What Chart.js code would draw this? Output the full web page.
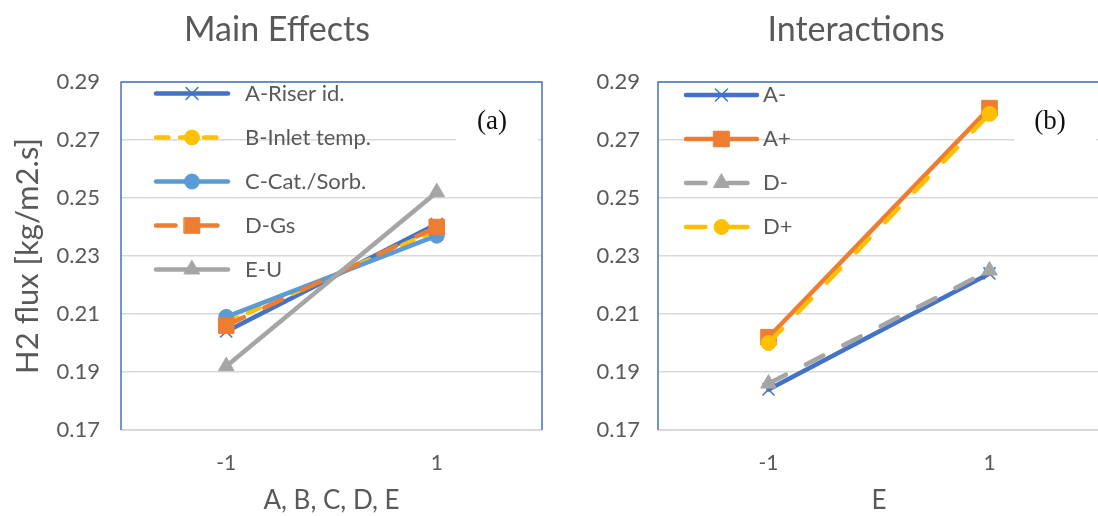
<!DOCTYPE html>
<html>
<head>
<meta charset="utf-8">
<title>H2 flux - main effects and interactions</title>
<script src="https://cdn.jsdelivr.net/npm/chart.js@4.4.1/dist/chart.umd.min.js"></script>
<style>
  body { margin: 0; background: #fff; }
  #page { position: relative; width: 1098px; height: 516px; overflow: hidden; }
  canvas { position: absolute; top: 0; }
  #mainEffects { left: 0; }
  #interactions { left: 560px; }
</style>
</head>
<body>
<div id="page">
  <canvas id="mainEffects" width="554" height="516"></canvas>
  <canvas id="interactions" width="592" height="516"></canvas>
</div>
<script>
const levels = ["-1", "1"];
const yTicks = [0.17, 0.19, 0.21, 0.23, 0.25, 0.27, 0.29];

// main effects: response at low / high level of each factor
const riserId = [0.204, 0.241];
const inletTemp = [0.207, 0.239];
const catSorb = [0.209, 0.237];
const gs = [0.206, 0.240];
const gasU = [0.192, 0.252];

// interactions, plotted against E
const aLow = [0.184, 0.224];
const aHigh = [0.202, 0.281];
const dLow = [0.186, 0.225];
const dHigh = [0.200, 0.279];

const BLUE = "#4472c4", ORANGE = "#ed7d31", GRAY = "#a5a5a5", GOLD = "#ffc000", LBLUE = "#5b9bd5";
const TEXT = "#595959";
const GRID = "#d9d9d9";
const FONT = "Lato, Carlito, Calibri, sans-serif";

const shortDash = [12.5, 11.5];
const longDash = [19.5, 22.5];

function series(label, data, color, style, radius, dash, order) {
  return {
    label, data, order,
    borderColor: color,
    backgroundColor: color,
    borderWidth: 4.5,
    borderDash: dash || [],
    borderCapStyle: "round",
    borderJoinStyle: "round",
    pointStyle: style,
    pointRadius: radius,
    pointHoverRadius: radius,
    pointBackgroundColor: color,
    pointBorderColor: color,
    pointBorderWidth: style === "crossRot" ? 1.5 : 1,
    tension: 0
  };
}

// plot outline (blue frame, grey base line) and the panel letter on a white patch
const plotFrame = {
  id: "plotFrame",
  beforeDatasetsDraw(chart, args, opts) {
    const { ctx, chartArea: a } = chart;
    ctx.save();
    ctx.fillStyle = "#fff";
    ctx.fillRect(a.right - 86, a.top + 20, 82, 44);
    ctx.strokeStyle = GRID;
    ctx.lineWidth = 2;
    ctx.beginPath();
    ctx.moveTo(a.left, a.bottom);
    ctx.lineTo(a.right, a.bottom);
    ctx.stroke();
    ctx.strokeStyle = BLUE;
    ctx.lineWidth = 1.5;
    ctx.beginPath();
    ctx.moveTo(a.left, a.bottom);
    ctx.lineTo(a.left, a.top);
    ctx.lineTo(a.right, a.top);
    ctx.lineTo(a.right, a.bottom);
    ctx.stroke();
    ctx.fillStyle = "#111";
    ctx.font = '27px "Liberation Serif", "Times New Roman", serif';
    ctx.textAlign = "center";
    ctx.textBaseline = "middle";
    ctx.fillText(opts.tag, a.right - 50, a.top + 40);
    ctx.restore();
  }
};

// legend drawn inside the plot area, one row per dataset
const inlineLegend = {
  id: "inlineLegend",
  beforeDatasetsDraw(chart, args, opts) {
    const { ctx, chartArea: a } = chart;
    ctx.save();
    chart.data.datasets.forEach((ds, i) => {
      const y = a.top + opts.top + i * opts.rowGap;
      const x0 = a.left + opts.left;
      const x1 = x0 + opts.lineLen;
      ctx.strokeStyle = ds.borderColor;
      ctx.lineWidth = ds.borderWidth;
      ctx.lineCap = "round";
      ctx.setLineDash(ds.borderDash);
      ctx.beginPath();
      ctx.moveTo(x0, y);
      ctx.lineTo(x1, y);
      ctx.stroke();
      ctx.setLineDash([]);
      ctx.fillStyle = ds.pointBackgroundColor;
      ctx.strokeStyle = ds.pointBorderColor;
      ctx.lineWidth = ds.pointBorderWidth;
      Chart.helpers.drawPoint(ctx, {
        pointStyle: ds.pointStyle, radius: ds.pointRadius, rotation: 0, borderWidth: ds.pointBorderWidth
      }, (x0 + x1) / 2, y);
      ctx.fillStyle = TEXT;
      ctx.font = opts.fontSize + "px " + FONT;
      ctx.textAlign = "left";
      ctx.textBaseline = "middle";
      ctx.fillText(ds.label, a.left + opts.textLeft, y);
    });
    ctx.restore();
  }
};

function makeOptions(cfg) {
  return {
    responsive: false,
    animation: false,
    events: [],
    layout: { padding: 0 },
    plugins: {
      legend: { display: false },
      tooltip: { enabled: false },
      title: {
        display: true,
        text: cfg.title,
        color: TEXT,
        font: { family: FONT, size: 34, weight: "normal" },
        padding: { top: 9.6, bottom: 31.6 }
      },
      plotFrame: { tag: cfg.tag },
      inlineLegend: cfg.legend
    },
    scales: {
      x: {
        offset: true,
        grid: { display: false, drawTicks: false },
        border: { display: false },
        ticks: { color: TEXT, font: { family: FONT, size: 21 }, padding: 21 },
        title: {
          display: true, text: cfg.xTitle, color: TEXT,
          font: { family: FONT, size: 26 }, padding: { top: 0, bottom: 0 }
        },
        afterFit: s => { s.height = 86; }
      },
      y: {
        min: 0.17,
        max: 0.29,
        afterBuildTicks: s => { s.ticks = yTicks.map(v => ({ value: v })); },
        afterFit: s => { s.width = cfg.yWidth; },
        grid: { color: GRID, lineWidth: 1.5, drawTicks: false },
        border: { display: false },
        ticks: {
          color: TEXT, font: { family: FONT, size: 22 }, padding: cfg.tickPad,
          callback: v => v.toFixed(2)
        },
        title: {
          display: !!cfg.yTitle, text: cfg.yTitle || "", color: TEXT,
          font: { family: FONT, size: 31 }, padding: { top: 9.5, bottom: 0 }
        }
      },
      // empty scale on the right, only reserves space next to the plot
      pad: {
        type: "linear",
        position: "right",
        grid: { display: false, drawTicks: false },
        border: { display: false },
        ticks: { display: false },
        afterFit: s => { s.width = cfg.rightGap; }
      }
    }
  };
}

new Chart(document.getElementById("mainEffects"), {
  type: "line",
  data: {
    labels: levels,
    datasets: [
      series("A-Riser id.", riserId, BLUE, "crossRot", 8.5, null, 4),
      series("B-Inlet temp.", inletTemp, GOLD, "circle", 7.5, shortDash, 3),
      series("C-Cat./Sorb.", catSorb, LBLUE, "circle", 7.5, null, 2),
      series("D-Gs", gs, ORANGE, "rect", 11, longDash, 1),
      series("E-U", gasU, GRAY, "triangle", 9, null, 0)
    ]
  },
  options: makeOptions({
    title: "Main Effects", tag: "(a)", xTitle: "A, B, C, D, E", yTitle: "H2 flux [kg/m2.s]",
    yWidth: 121, tickPad: 21, rightGap: 11,
    legend: { top: 11.5, rowGap: 44, left: 35, lineLen: 72, textLeft: 124, fontSize: 22 }
  }),
  plugins: [plotFrame, inlineLegend]
});

new Chart(document.getElementById("interactions"), {
  type: "line",
  data: {
    labels: levels,
    datasets: [
      series("A-", aLow, BLUE, "crossRot", 8.5, null, 3),
      series("A+", aHigh, ORANGE, "rect", 11, null, 2),
      series("D-", dLow, GRAY, "triangle", 9, longDash, 1),
      series("D+", dHigh, GOLD, "circle", 7.5, longDash, 0)
    ]
  },
  options: makeOptions({
    title: "Interactions", tag: "(b)", xTitle: "E", yTitle: null,
    yWidth: 98, tickPad: 18, rightGap: 52,
    legend: { top: 13, rowGap: 44, left: 28, lineLen: 71, textLeft: 105, fontSize: 22 }
  }),
  plugins: [plotFrame, inlineLegend]
});
</script>
</body>
</html>
